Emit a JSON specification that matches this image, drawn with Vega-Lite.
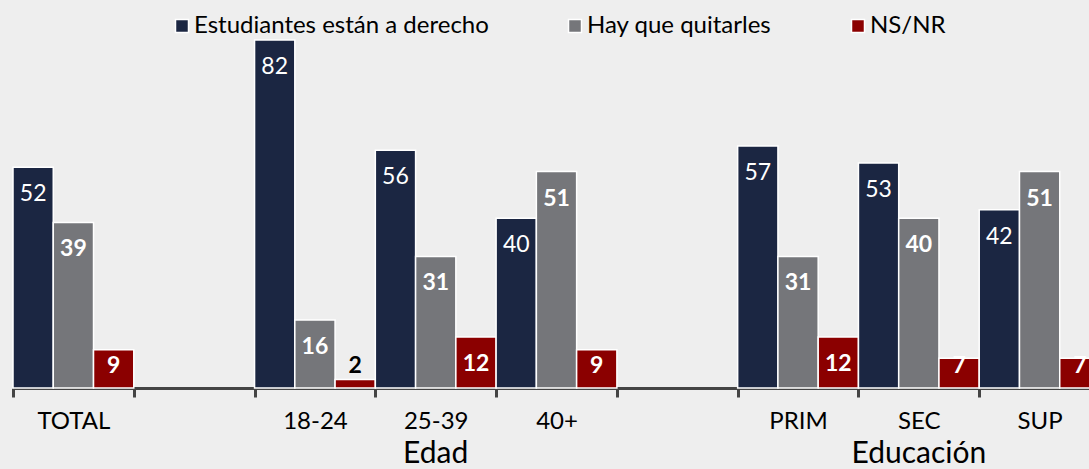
{
  "$schema": "https://vega.github.io/schema/vega-lite/v6.json",
  "width": 1087,
  "height": 382,
  "autosize": "none",
  "padding": {"left": 13, "top": 6, "right": 0, "bottom": 81},
  "background": "#eeeeee",
  "config": {"view": {"stroke": null}, "font": "Lato"},
  "data": {
    "values": [
      {"cat": "TOTAL", "serie": "Estudiantes están a derecho", "value": 52},
      {"cat": "TOTAL", "serie": "Hay que quitarles", "value": 39},
      {"cat": "TOTAL", "serie": "NS/NR", "value": 9},
      {"cat": "18-24", "serie": "Estudiantes están a derecho", "value": 82},
      {"cat": "18-24", "serie": "Hay que quitarles", "value": 16},
      {"cat": "18-24", "serie": "NS/NR", "value": 2},
      {"cat": "25-39", "serie": "Estudiantes están a derecho", "value": 56},
      {"cat": "25-39", "serie": "Hay que quitarles", "value": 31},
      {"cat": "25-39", "serie": "NS/NR", "value": 12},
      {"cat": "40+", "serie": "Estudiantes están a derecho", "value": 40},
      {"cat": "40+", "serie": "Hay que quitarles", "value": 51},
      {"cat": "40+", "serie": "NS/NR", "value": 9},
      {"cat": "PRIM", "serie": "Estudiantes están a derecho", "value": 57},
      {"cat": "PRIM", "serie": "Hay que quitarles", "value": 31},
      {"cat": "PRIM", "serie": "NS/NR", "value": 12},
      {"cat": "SEC", "serie": "Estudiantes están a derecho", "value": 53},
      {"cat": "SEC", "serie": "Hay que quitarles", "value": 40},
      {"cat": "SEC", "serie": "NS/NR", "value": 7},
      {"cat": "SUP", "serie": "Estudiantes están a derecho", "value": 42},
      {"cat": "SUP", "serie": "Hay que quitarles", "value": 51},
      {"cat": "SUP", "serie": "NS/NR", "value": 7}
    ]
  },
  "encoding": {
    "x": {
      "field": "cat",
      "type": "nominal",
      "scale": {
        "domain": ["TOTAL", " ", "18-24", "25-39", "40+", "  ", "PRIM", "SEC", "SUP"],
        "paddingInner": 0,
        "paddingOuter": 0
      }
    },
    "xOffset": {
      "field": "serie",
      "type": "nominal",
      "scale": {
        "domain": ["Estudiantes están a derecho", "Hay que quitarles", "NS/NR"],
        "paddingInner": 0,
        "paddingOuter": 0
      }
    },
    "y": {
      "field": "value",
      "type": "quantitative",
      "scale": {"domain": [0, 90], "nice": false},
      "axis": null
    }
  },
  "layer": [
    {
      "mark": {"type": "bar", "stroke": "white", "strokeWidth": 1.5},
      "encoding": {
        "x": {
          "field": "cat",
          "type": "nominal",
          "axis": {
            "orient": "bottom",
            "title": null,
            "tickBand": "extent",
            "labelAngle": 0,
            "labelFontSize": 24,
            "labelColor": "#000000",
            "labelPadding": 12,
            "labelOverlap": false,
            "ticks": true,
            "tickSize": 9,
            "tickWidth": 3,
            "tickColor": "#444444",
            "domainWidth": 3,
            "domainColor": "#444444"
          }
        },
        "color": {
          "field": "serie",
          "type": "nominal",
          "scale": {
            "domain": ["Estudiantes están a derecho", "Hay que quitarles", "NS/NR"],
            "range": ["#1b2642", "#75767a", "#8b0000"]
          },
          "legend": {
            "orient": "none",
            "legendX": 157,
            "legendY": 8,
            "direction": "horizontal",
            "title": null,
            "symbolType": "square",
            "symbolSize": 169,
            "symbolStrokeColor": "white",
            "symbolStrokeWidth": 1.5,
            "symbolOpacity": 1,
            "labelFontSize": 24,
            "labelColor": "#000000",
            "labelOffset": 0,
            "columnPadding": 74,
            "labelLimit": 400
          }
        }
      }
    },
    {
      "transform": [{"filter": "datum.serie == 'Estudiantes están a derecho'"}],
      "mark": {"type": "text", "color": "white", "fontSize": 23, "baseline": "middle", "dy": 27},
      "encoding": {
        "text": {"field": "value", "type": "quantitative"},
        "x": {
          "field": "cat",
          "type": "nominal",
          "axis": {
            "orient": "bottom",
            "title": null,
            "labelExpr": "datum.value == '25-39' ? 'Edad' : datum.value == 'SEC' ? 'Educación' : ''",
            "labelAngle": 0,
            "labelFontSize": 30,
            "labelColor": "#000000",
            "labelPadding": 50,
            "labelOverlap": false,
            "ticks": false,
            "tickSize": 0,
            "domain": false
          }
        }
      }
    },
    {
      "transform": [{"filter": "datum.serie != 'Estudiantes están a derecho' && datum.value >= 10"}],
      "mark": {"type": "text", "color": "white", "fontSize": 23, "fontWeight": "bold", "baseline": "middle", "dy": 27},
      "encoding": {
        "text": {"field": "value", "type": "quantitative"},
        "x": {"field": "cat", "type": "nominal", "axis": null}
      }
    },
    {
      "transform": [{"filter": "datum.value < 10"}],
      "mark": {"type": "text", "fontSize": 23, "fontWeight": "bold", "baseline": "middle", "dy": -22},
      "encoding": {
        "text": {"field": "value", "type": "quantitative"},
        "x": {"field": "cat", "type": "nominal", "axis": null},
        "y": {"datum": 0},
        "color": {"condition": {"test": "datum.value < 5", "value": "#000000"}, "value": "white"}
      }
    }
  ],
  "resolve": {"axis": {"x": "independent"}}
}
